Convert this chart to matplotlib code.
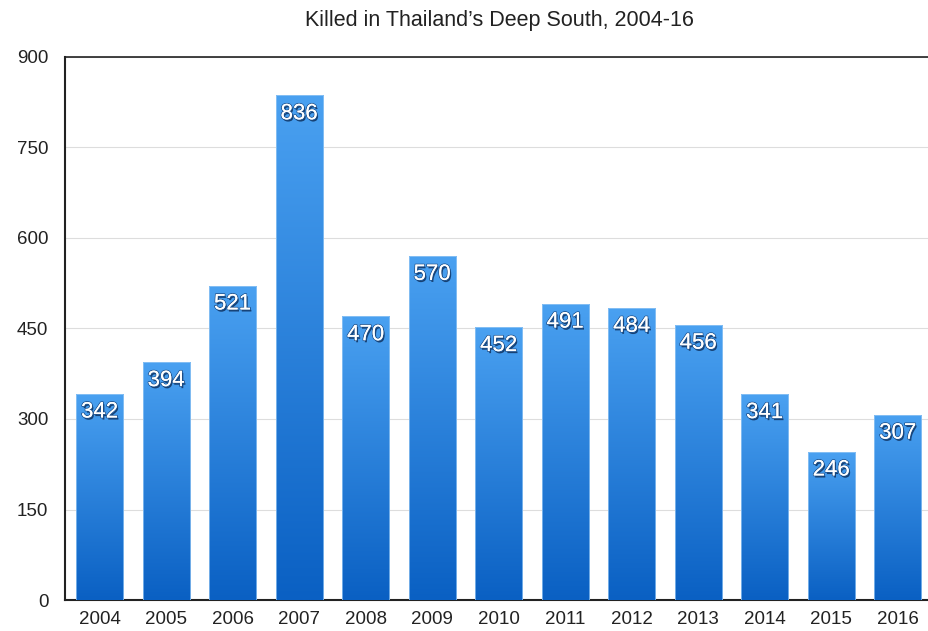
import numpy as np
import matplotlib
matplotlib.use("Agg")
import matplotlib.pyplot as plt
import matplotlib.patheffects as pe
from matplotlib.colors import LinearSegmentedColormap

years = ["2004", "2005", "2006", "2007", "2008", "2009", "2010",
         "2011", "2012", "2013", "2014", "2015", "2016"]
killed = [342, 394, 521, 836, 470, 570, 452, 491, 484, 456, 341, 246, 307]
yticks = [0, 150, 300, 450, 600, 750, 900]
title = "Killed in Thailand\u2019s Deep South, 2004-16"

plt.rcParams['font.family'] = ['Liberation Sans', 'DejaVu Sans']

fig = plt.figure(figsize=(9.29, 6.31), dpi=100)
ax = fig.add_axes([0.07, 0.049, 0.93, 0.861])

x = np.arange(len(years))
bars = ax.bar(x, killed, width=0.71, color='none', edgecolor='none', zorder=3)

cmap = LinearSegmentedColormap.from_list('g', ['#0a60c3', '#4aa1f1'])
grad = np.linspace(0, 1, 256).reshape(-1, 1)
for b in bars:
    x0, y0 = b.get_x(), b.get_y()
    w, h = b.get_width(), b.get_height()
    im = ax.imshow(grad, extent=[x0, x0 + w, y0, y0 + h], origin='lower',
                   cmap=cmap, aspect='auto', zorder=3)
    im.set_clip_path(b)
    ax.bar(b.get_x() + w / 2, h, width=w, color='none', edgecolor='#9ccbf5',
           linewidth=0.5, zorder=4)

for xi, v in zip(x, killed):
    ax.text(xi, v - 13, str(v), ha='center', va='top', color='white',
            fontsize=16, zorder=5,
            path_effects=[pe.withSimplePatchShadow(offset=(1, -1.5), shadow_rgbFace='#0b2a55', alpha=0.8),
                          pe.withStroke(linewidth=1.2, foreground='#1d4f8a'),
                          pe.Normal()])

ax.set_xlim(-0.52, 12.47)
ax.set_ylim(0, 900)
ax.set_yticks(yticks)
ax.set_yticklabels([str(t) for t in yticks])
ax.set_xticks(x)
ax.set_xticklabels(years)
ax.tick_params(axis='both', length=0, labelsize=13.5, colors='#222222')
ax.tick_params(axis='y', pad=12)
ax.tick_params(axis='x', pad=8)
ax.yaxis.grid(True, color='#dddddd', linewidth=0.8, zorder=0)
ax.set_axisbelow(True)

for s in ['left', 'bottom', 'top']:
    ax.spines[s].set_color('#222222')
    ax.spines[s].set_linewidth(1.5)
ax.spines['top'].set_linewidth(1.2)
ax.spines['right'].set_visible(False)

fig.text(0.538, 0.967, title, ha='center', va='center', fontsize=15.5, color='#222222')

fig.savefig("out.png", dpi=100)
